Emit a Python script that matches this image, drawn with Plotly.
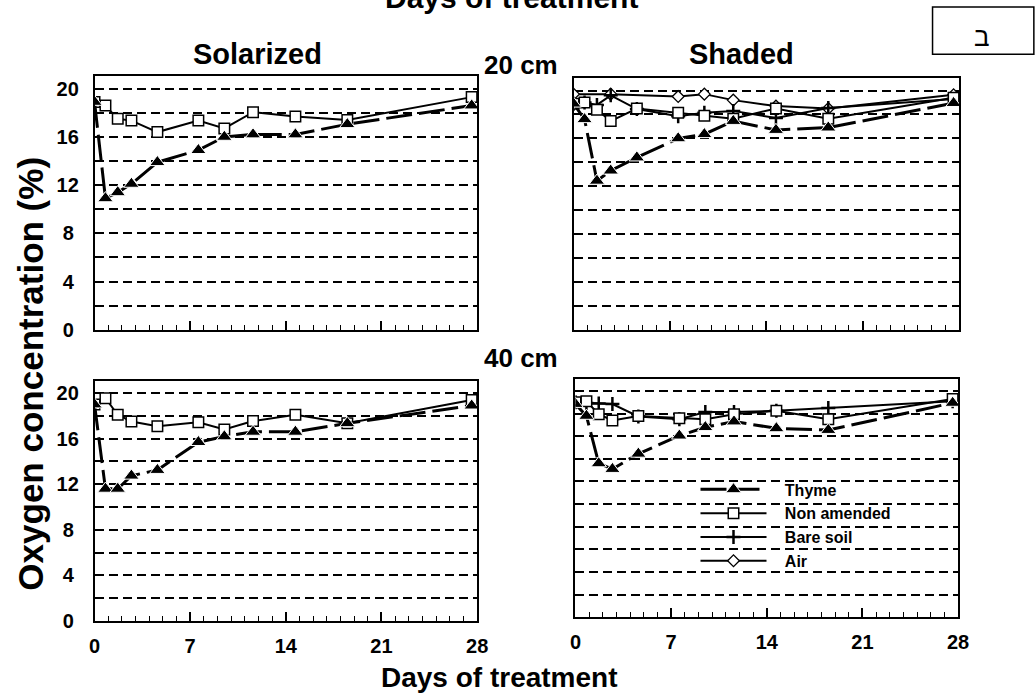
import plotly.graph_objects as go

# Sampling days (days of treatment) shared by all panels
days = [0, 0.8, 1.7, 2.7, 4.6, 7.6, 9.5, 11.6, 14.7, 18.5, 27.6]

# Solarized, 20 cm
sol20_thyme = [18.9, 10.9, 11.4, 12.1, 13.9, 14.9, 16.0, 16.2, 16.2, 17.05, 18.6]
sol20_nonam = [18.9, 18.6, 17.5, 17.35, 16.4, 17.35, 16.7, 18.05, 17.7, 17.4, 19.3]

# Shaded, 20 cm
sh20_thyme = [18.9, 17.6, 12.45, 13.3, 14.4, 16.0, 16.35, 17.45, 16.7, 16.9, 18.95]
sh20_nonam = [18.9, 19.0, 18.4, 17.45, 18.5, 18.15, 17.9, 17.65, 18.5, 17.65, 19.4]
sh20_bare = [18.9, 19.0, 18.8, 19.6, 18.45, 17.85, 18.15, 18.3, 17.7, 18.55, 19.3]
sh20_air = [19.7, None, None, 19.7, None, 19.5, 19.7, 19.2, 18.7, 18.5, 19.65]

# Solarized, 40 cm
sol40_thyme = [19.0, 11.6, 11.6, 12.75, 13.25, 15.7, 16.2, 16.6, 16.6, 17.35, 18.9]
sol40_nonam = [19.0, 19.55, 18.1, 17.5, 17.1, 17.45, 16.8, 17.55, 18.1, 17.35, 19.4]

# Shaded, 40 cm
sh40_thyme = [18.85, 17.8, 13.6, 13.1, 14.45, 16.05, 16.8, 17.3, 16.7, 16.55, 18.95]
sh40_nonam = [19.0, 19.1, 17.95, 17.4, 17.8, 17.6, 17.5, 17.95, 18.25, 17.5, 19.3]
sh40_bare = [19.0, 18.95, 18.9, 18.85, 17.75, 17.5, 18.15, 18.15, 18.25, 18.5, 19.1]

x_ticks = [0, 7, 14, 21, 28]
y_ticks = [0, 4, 8, 12, 16, 20]
# one-digit labels get a trailing four-per-em space so every label sits centred
y_ticktext = [str(v) if v >= 10 else f"{v}\u2005" for v in y_ticks]

W, H = 1036, 699
FONT = "Liberation Sans, Arial, sans-serif"
PAD = "\u00a0\u00a0\u00a0"  # gap between legend symbol and its label


def px(x):
    return x / W


def py(y):
    return 1 - y / H


STYLES = {
    "Thyme": dict(
        line=dict(color="black", width=3, dash="26px,7px"),
        marker=dict(symbol="triangle-up", size=13.5, color="black",
                    line=dict(color="white", width=1)),
    ),
    "Non amended": dict(
        line=dict(color="black", width=2),
        marker=dict(symbol="square", size=10.5, color="white",
                    line=dict(color="black", width=1.5)),
    ),
    "Bare soil": dict(
        line=dict(color="black", width=2),
        marker=dict(symbol="cross-thin", size=10, color="black",
                    line=dict(color="black", width=2.5)),
    ),
    "Air": dict(
        line=dict(color="black", width=2),
        marker=dict(symbol="diamond", size=9, color="white",
                    line=dict(color="black", width=1.3)),
    ),
}
RANK = {"Thyme": 1, "Non amended": 2, "Bare soil": 3, "Air": 4}

fig = go.Figure()


def add(name, y, ax, legend):
    fig.add_trace(go.Scatter(
        x=days, y=y, name=PAD + name, mode="lines+markers",
        xaxis="x" + ax, yaxis="y" + ax, connectgaps=True,
        legendgroup=name, showlegend=legend, legendrank=RANK[name],
        **STYLES[name],
    ))


# drawing order: air, bare soil, non amended, thyme on top
add("Non amended", sol20_nonam, "", False)
add("Thyme", sol20_thyme, "", False)
add("Air", sh20_air, "2", True)
add("Bare soil", sh20_bare, "2", False)
add("Non amended", sh20_nonam, "2", False)
add("Thyme", sh20_thyme, "2", False)
add("Non amended", sol40_nonam, "3", False)
add("Thyme", sol40_thyme, "3", False)
add("Bare soil", sh40_bare, "4", True)
add("Non amended", sh40_nonam, "4", True)
add("Thyme", sh40_thyme, "4", True)

tick_font = dict(family=FONT, size=20, color="black", weight="bold")


def xaxis(domain, anchor, labels):
    return dict(
        domain=domain, anchor=anchor, range=[0, 28],
        tickvals=x_ticks, ticks="inside", ticklen=9, tickwidth=1.5,
        tickcolor="black", showticklabels=labels, tickfont=tick_font,
        ticklabelstandoff=6,
        showline=True, linecolor="black", linewidth=1.5, mirror=True,
        showgrid=False, zeroline=False,
        minor=dict(dtick=1, tick0=0, ticks="inside", ticklen=5,
                   tickwidth=1.2, tickcolor="black", showgrid=False),
    )


def yaxis(domain, anchor, labels):
    return dict(
        domain=domain, anchor=anchor, range=[0, 21.07],
        tickvals=y_ticks, ticktext=y_ticktext, ticks="",
        showticklabels=labels, tickfont=tick_font, ticklabelstandoff=10,
        showline=True, linecolor="black", linewidth=1.5, mirror=True,
        showgrid=True, gridcolor="black", gridwidth=2, griddash="9px,5px",
        zeroline=False,
        minor=dict(dtick=2, tick0=0, ticks="", showgrid=True,
                   gridcolor="black", gridwidth=2, griddash="9px,5px"),
    )


left_x = [px(90), px(479)]
right_x = [px(577), px(969)]

fig.update_layout(
    width=W, height=H,
    margin=dict(l=0, r=0, t=0, b=0),
    paper_bgcolor="white", plot_bgcolor="white",
    font=dict(family=FONT, color="black"),
    xaxis=xaxis(left_x, "y", False),
    yaxis=yaxis([py(335), py(77)], "x", True),
    xaxis2=xaxis(right_x, "y2", False),
    yaxis2=yaxis([py(335), py(79)], "x2", False),
    xaxis3=xaxis(left_x, "y3", True),
    yaxis3=yaxis([py(631), py(387)], "x3", True),
    xaxis4=xaxis([px(579), px(968)], "y4", True),
    yaxis4=yaxis([py(627), py(385)], "x4", False),
    legend=dict(
        x=px(701), y=py(480), xanchor="left", yanchor="top",
        bgcolor="rgba(0,0,0,0)", borderwidth=0,
        font=dict(family=FONT, size=16, color="black", weight="bold"),
        itemwidth=66, tracegroupgap=0,
    ),
)

bold = lambda s: dict(family=FONT, size=s, color="black", weight="bold")
texts = [
    ("Days of treatment", 514, -3, 30, 0),
    ("Solarized", 256, 55, 29, 0),
    ("Shaded", 748, 55, 29, 0),
    ("20 cm", 524, 66, 26, 0),
    ("40 cm", 524, 364, 26, 0),
    ("Days of treatment", 502, 688, 28, 0),
    ("Oxygen concentration (%)", 24, 380, 35, -90),
]
for t, x, y, s, ang in texts:
    fig.add_annotation(
        text=t, x=px(x), y=py(y), xref="paper", yref="paper",
        xanchor="center", yanchor="middle", showarrow=False,
        font=bold(s), textangle=ang,
    )

# Hebrew panel letter in its frame
fig.add_annotation(
    text="ב", x=px(992), y=py(38), xref="paper", yref="paper",
    xanchor="center", yanchor="middle", showarrow=False,
    font=dict(family=FONT, size=26, color="black"),
)
fig.add_shape(
    type="rect", xref="paper", yref="paper",
    x0=px(942), x1=px(1045), y0=py(55), y1=py(7),
    line=dict(color="black", width=1.5), fillcolor="rgba(0,0,0,0)",
)

fig.write_html("out.html")
